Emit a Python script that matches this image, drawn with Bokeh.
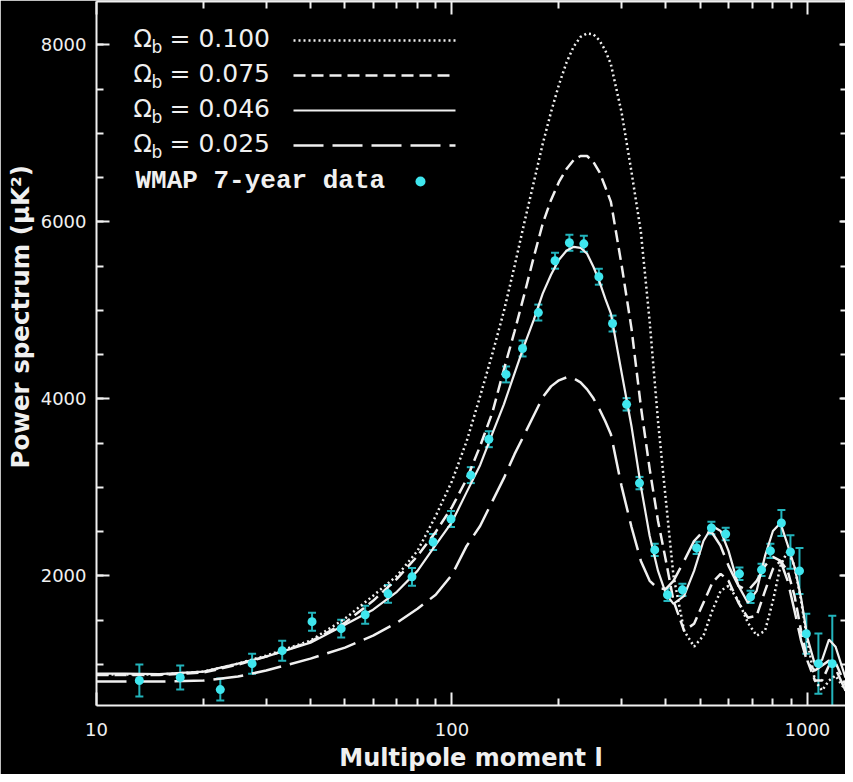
import numpy as np
from bokeh.plotting import figure
from bokeh.models import (ColumnDataSource, Whisker, TeeHead, LogAxis, LinearAxis, FixedTicker,
                          SingleIntervalTicker, BasicTickFormatter, CustomJSTickFormatter,
                          Label, Arrow, BoxAnnotation, Title)
from bokeh.embed import file_html
from bokeh.resources import INLINE

# ---------------- data ----------------
ell = [10, 12, 15, 20, 25, 30, 40, 50, 60, 70, 80, 90,
       100, 110, 120, 130, 140, 150, 160, 170, 180, 190, 200, 210, 220, 230, 240, 250, 260, 270, 280,
       300, 320, 340, 360, 380, 400, 420, 450, 480, 510, 540, 570, 600,
       640, 680, 720, 760, 800, 840, 880, 920, 960, 1000, 1050, 1100, 1150, 1200, 1280]

cl_0100 = [884, 884, 884, 918, 1008, 1099, 1268, 1516, 1775, 2000, 2282, 2676,
           3070, 3521, 4028, 4513, 4990, 5500, 6000, 6450, 6880, 7240, 7550, 7800, 7980, 8090, 8130, 8119, 8051, 7939, 7781,
           7240, 6564, 5888, 4873, 3746, 2845, 2000, 1380, 1200, 1324, 1606, 1831, 1887,
           1718, 1470, 1324, 1380, 1718, 2113, 2282, 2113, 1718, 1268, 817, 704, 817, 873, 704]

cl_0075 = [880, 880, 880, 907, 997, 1087, 1256, 1470, 1718, 1966, 2225, 2496,
           2777, 3093, 3465, 3848, 4332, 4761, 5189, 5606, 5978, 6248, 6451, 6597, 6699, 6744, 6744, 6676, 6563, 6394, 6226,
           5516, 4794, 3916, 3206, 2620, 2169, 1718, 1380, 1459, 1696, 1921, 2023, 1944,
           1696, 1527, 1550, 1831, 2079, 2169, 2056, 1775, 1380, 1042, 817, 817, 986, 1020, 761]

cl_0046 = [896, 896, 890, 918, 1008, 1087, 1245, 1448, 1617, 1820, 2056, 2349,
           2608, 2946, 3251, 3611, 3938, 4287, 4614, 4896, 5189, 5403, 5572, 5673, 5718, 5707, 5640, 5493, 5324, 5132, 4963,
           4300, 3690, 3014, 2451, 2056, 1797, 1684, 1775, 2056, 2394, 2563, 2507, 2282,
           1887, 1696, 1831, 2225, 2507, 2597, 2350, 2100, 1750, 1300, 1000, 1050, 1280, 1200, 850]

cl_0025 = [806, 806, 806, 817, 862, 930, 1065, 1189, 1324, 1470, 1628, 1786,
           2011, 2338, 2563, 2845, 3104, 3375, 3600, 3814, 4017, 4141, 4209, 4242, 4231, 4186, 4107, 4006, 3882, 3747, 3600,
           3014, 2552, 2169, 1944, 1854, 1854, 1944, 2169, 2394, 2507, 2484, 2338, 2113,
           1887, 1831, 1944, 2113, 2214, 2169, 1944, 1606, 1268, 1020, 930, 986, 1042, 952, 704]

wmap_l = [13.2, 17.2, 22.3, 27.4, 33.3, 40.4, 48.8, 57.0, 66.1, 77.2, 88.5, 99.4, 113, 127, 142,
          158, 175, 195, 214, 235, 259, 283, 310, 337, 372, 404, 445, 488, 537, 589, 644, 692,
          743, 787, 845, 896, 950, 993, 1074, 1175]
wmap_v = [817, 851, 715, 1008, 1155, 1482, 1403, 1561, 1797, 1989, 2383, 2642, 3138, 3544, 4276,
          4569, 4975, 5561, 5764, 5752, 5380, 4851, 3938, 3048, 2293, 1786, 1842, 2316, 2541, 2473,
          2023, 1763, 2068, 2282, 2597, 2270, 2056, 1346, 1008, 1008]
wmap_err = [180, 135, 124, 113, 113, 101, 101, 101, 101, 101, 90, 90, 90, 90, 90,
            90, 90, 90, 90, 90, 90, 90, 70, 70, 70, 70, 70, 70, 70, 70,
            70, 70, 70, 80, 147, 190, 260, 225, 340, 540]

omega_labels = ["0.100", "0.075", "0.046", "0.025"]
x_major_ticks = [10, 100, 1000]
x_minor_ticks = [m * d for d in (10, 100) for m in range(2, 10)]

# ---------------- styling ----------------
WHITE = "#f0f0f0"
CYAN = "#3fe6ee"
ERRC = "#23b4bc"
FONT = "DejaVu Sans"

p = figure(width=845, height=774, x_axis_type="log", x_range=(10, 1280), y_range=(535, 8490),
           output_backend="svg", toolbar_location=None,
           background_fill_color="black", border_fill_color="black", outline_line_color=None,
           min_border_left=95, min_border_right=0, min_border_top=1, min_border_bottom=67)
p.grid.visible = False

styles = [("2 3", 2.5), ("12 6", 2.5), ("solid", 2.2), ("30 9", 2.5)]
series = [cl_0100, cl_0075, cl_0046, cl_0025]
for vals, (dash, w) in zip(series, styles):
    p.line(ell, vals, line_color=WHITE, line_width=w, line_dash=dash)

lo = (np.array(wmap_v) - np.array(wmap_err)).tolist()
hi = (np.array(wmap_v) + np.array(wmap_err)).tolist()
src = ColumnDataSource(dict(l=wmap_l, v=wmap_v, lo=lo, hi=hi))
p.add_layout(Whisker(source=src, base="l", upper="hi", lower="lo", dimension="height",
                     line_color=ERRC, line_width=2,
                     upper_head=TeeHead(size=8, line_color=ERRC, line_width=2),
                     lower_head=TeeHead(size=8, line_color=ERRC, line_width=2)))
p.scatter("l", "v", source=src, size=9, fill_color=CYAN, line_color=None)

# ---------------- axes ----------------
xt = FixedTicker(ticks=x_major_ticks, minor_ticks=x_minor_ticks)
yt = SingleIntervalTicker(interval=2000, num_minor_ticks=4)

xa = p.xaxis[0]
xa.ticker = xt
xa.formatter = BasicTickFormatter()
ya = p.yaxis[0]
ya.ticker = yt

for ax in (xa, ya):
    ax.axis_line_color = WHITE
    ax.axis_line_width = 2
    ax.major_tick_line_color = WHITE
    ax.minor_tick_line_color = WHITE
    ax.major_tick_line_width = 2
    ax.minor_tick_line_width = 2
    ax.major_tick_out = 0
    ax.minor_tick_out = 0
    ax.major_tick_in = 13
    ax.minor_tick_in = 7
    ax.major_label_text_color = WHITE
    ax.major_label_text_font = FONT
    ax.major_label_text_font_size = "18px"

xa.major_label_standoff = 17
ya.major_label_standoff = 10
xa.axis_label = "Multipole moment l"
xa.axis_label_text_font = FONT
xa.axis_label_text_font_style = "bold"
xa.axis_label_text_font_size = "24px"
xa.axis_label_text_color = WHITE
xa.axis_label_standoff = 5

blank = CustomJSTickFormatter(code="return ''")
top = LogAxis(ticker=xt, formatter=blank, axis_line_color=WHITE, axis_line_width=2,
              major_tick_line_color=WHITE, minor_tick_line_color=WHITE,
              major_tick_line_width=2, minor_tick_line_width=2,
              major_tick_out=0, minor_tick_out=0, major_tick_in=13, minor_tick_in=7,
              major_label_text_font_size="1px", major_label_text_alpha=0, major_label_standoff=0)
p.add_layout(top, "above")
right = LinearAxis(ticker=yt, formatter=blank, axis_line_color=None,
                   major_tick_line_color=WHITE, minor_tick_line_color=WHITE,
                   major_tick_line_width=2, minor_tick_line_width=2,
                   major_tick_out=0, minor_tick_out=0, major_tick_in=6, minor_tick_in=5,
                   major_label_text_font_size="1px", major_label_text_alpha=0, major_label_standoff=0)
p.add_layout(right, "right")

p.add_layout(Title(text="Power spectrum (\u03bcK\u00b2)", align="left", offset=237,
                   text_font=FONT, text_font_style="bold", text_font_size="24.5px",
                   text_color=WHITE, standoff=6), "left")

# ---------------- legend (screen units, frame-relative) ----------------
row0, step = 660, 35
for i, (lab, (dash, w)) in enumerate(zip(omega_labels, styles)):
    ys = row0 - i * step
    ty = ys + 7
    p.add_layout(Label(x=37, y=ty, x_units="screen", y_units="screen", text="\u03a9",
                       text_font=FONT, text_font_size="24px", text_color=WHITE,
                       text_baseline="alphabetic"))
    p.add_layout(Label(x=55, y=ty - 8, x_units="screen", y_units="screen", text="b",
                       text_font=FONT, text_font_size="17px", text_color=WHITE,
                       text_baseline="alphabetic"))
    p.add_layout(Label(x=73, y=ty, x_units="screen", y_units="screen", text="= " + lab,
                       text_font=FONT, text_font_size="25px", text_color=WHITE,
                       text_baseline="alphabetic"))
    p.add_layout(Arrow(start=None, end=None, x_start=197, y_start=ys + 5, x_end=359, y_end=ys + 5,
                       start_units="screen", end_units="screen",
                       line_color=WHITE, line_width=w, line_dash=dash))

ys = row0 - 4 * step - 2
p.add_layout(Label(x=39, y=ys + 7, x_units="screen", y_units="screen", text="WMAP 7-year data",
                   text_font="Liberation Mono", text_font_style="bold", text_font_size="26px",
                   text_color=WHITE, text_baseline="alphabetic"))
p.add_layout(BoxAnnotation(left=319, right=329, bottom=ys + 1, top=ys + 11,
                           left_units="screen", right_units="screen",
                           bottom_units="screen", top_units="screen",
                           border_radius=5, fill_color=CYAN, fill_alpha=1, line_color=None))

open("out.html", "w").write(file_html(p, INLINE))
